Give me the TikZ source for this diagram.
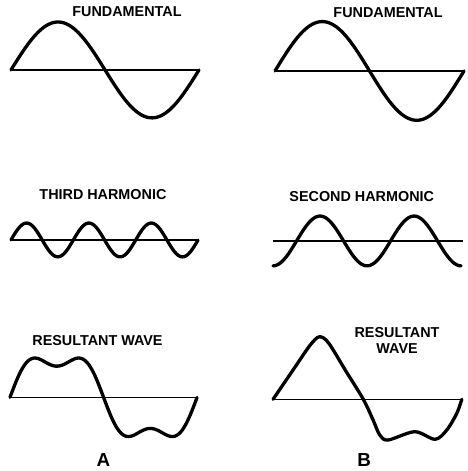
\documentclass[tikz,border=0pt]{standalone}
\usepackage{fontspec}
\setsansfont{Liberation Sans}
\tikzset{
  axisline/.style={line width=0.8pt},
  waveline/.style={line width=2pt, line join=round, line cap=round},
  wavelabel/.style={font=\sffamily\bfseries\fontsize{8.7}{9.6}\selectfont, align=center},
  panellabel/.style={font=\sffamily\bfseries\fontsize{11.4}{12}\selectfont}
}

\begin{document}
\begin{tikzpicture}
  \useasboundingbox (0,0) rectangle (9.94,10.02);
  % axis starts of the six waves
  \coordinate (fundA) at (0.234,8.532);
  \coordinate (fundB) at (5.851,8.511);
  \coordinate (third) at (0.234,4.915);
  \coordinate (second) at (5.809,4.894);
  \coordinate (resA) at (0.213,1.568);
  \coordinate (resB) at (5.809,1.525);

  % column A
  \node[wavelabel] (fundAlbl) at (2.702,9.766) {FUNDAMENTAL};
  \draw[axisline] (fundA) -- ++(4,0);
  \draw[waveline, shift={(fundA)}] plot[domain=0:4, samples=90, smooth] (\x, {1.02*sin(90*\x)});

  \node[wavelabel] (thirdlbl) at (2.19,5.872) {THIRD HARMONIC};
  \draw[axisline] (third) -- ++(3.98,0);
  \draw[waveline, shift={(third)}] plot[domain=0:3.98, samples=120, smooth] (\x, {0.36*sin(270*\x/0.995)});

  \node[wavelabel] (resAlbl) at (2.074,2.766) {RESULTANT WAVE};
  \draw[axisline] (resA) -- ++(3.98,0);
  \draw[waveline, shift={(resA)}] plot[domain=0:3.98, samples=120, smooth]
    (\x, {0.92*(sin(90*\x/0.995) + 0.28*sin(270*\x/0.995))});
  \node[panellabel] (lblA) at (2.2,0.234) {A};

  % column B
  \node[wavelabel] (fundBlbl) at (8.255,9.745) {FUNDAMENTAL};
  \draw[axisline] (fundB) -- ++(4.02,0);
  \draw[waveline, shift={(fundB)}] plot[domain=0:4.02, samples=90, smooth] (\x, {1.05*sin(90*\x/1.005)});

  \node[wavelabel] (secondlbl) at (7.696,5.836) {SECOND HARMONIC};
  \draw[axisline] (second) -- ++(4.04,0);
  \draw[waveline, shift={(second)}] plot[domain=0:4, samples=90, smooth] (\x, {-0.53*cos(180*\x)});

  \node[wavelabel] (resBlbl) at (8.447,2.777) {RESULTANT\\WAVE};
  \draw[axisline] (resB) -- ++(4.015,0);
  \draw[waveline, shift={(resB)}] plot[smooth]
    coordinates {(0,0)(0.45,0.66)(0.787,1.15)(0.985,1.33)(1.18,1.2)(1.55,0.6)
      (1.92,0)(2.128,-0.44)(2.27,-0.76)(2.447,-0.866)(3.014,-0.689)(3.447,-0.851)
      (3.696,-0.653)(3.909,-0.298)(4.015,0)};
  \node[panellabel] (lblB) at (7.745,0.234) {B};
\end{tikzpicture}
\end{document}
